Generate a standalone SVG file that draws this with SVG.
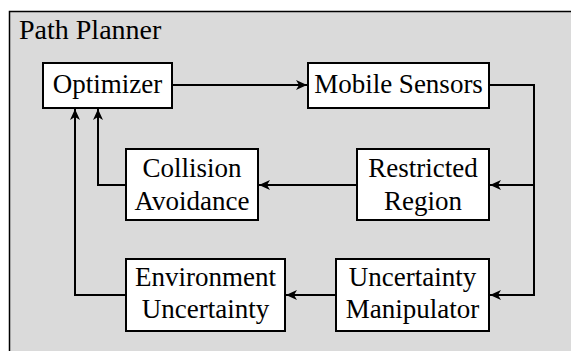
<svg xmlns="http://www.w3.org/2000/svg" width="571" height="351" viewBox="0 0 571 351" font-family="Liberation Serif">
<style>
.box{fill:#fff;stroke:#000;stroke-width:2}
.lbl{fill:#000;text-anchor:middle}
.wire{fill:none;stroke:#000;stroke-width:2}
</style>
<defs>
<marker id="ah" markerUnits="userSpaceOnUse" markerWidth="14" markerHeight="12" viewBox="-12 -6 14 12" refX="0" refY="0" orient="auto">
<path d="M0,0 L-11,-5 L-8,0 L-11,5 Z" fill="#000"/>
</marker>
</defs>
<rect x="9.5" y="11.5" width="570" height="350" fill="#dadada" stroke="#000" stroke-width="1.5"/>
<text x="19" y="39" font-family="Liberation Serif" font-size="28">Path Planner</text>
<g id="connectors">
<path class="wire" d="M172,85 H307" marker-end="url(#ah)"/>
<path class="wire" d="M489,85 H534 V185 H490" marker-end="url(#ah)"/>
<path class="wire" d="M534,185 V295 H490" marker-end="url(#ah)"/>
<path class="wire" d="M357,185 H259" marker-end="url(#ah)"/>
<path class="wire" d="M336,295 H286" marker-end="url(#ah)"/>
<path class="wire" d="M126,185 H98 V109" marker-end="url(#ah)"/>
<path class="wire" d="M126,295 H75 V109" marker-end="url(#ah)"/>
</g>
<g id="optimizer">
<rect class="box" x="43" y="63" width="129" height="45"/>
<text class="lbl" x="107.5" y="93" font-family="Liberation Serif" font-size="27">Optimizer</text>
</g>
<g id="mobile-sensors">
<rect class="box" x="308" y="63" width="181" height="45"/>
<text class="lbl" x="398.5" y="93" font-family="Liberation Serif" font-size="27">Mobile Sensors</text>
</g>
<g id="collision-avoidance">
<rect class="box" x="126" y="149" width="132" height="71"/>
<text class="lbl" x="192" y="177" font-family="Liberation Serif" font-size="27">Collision</text>
<text class="lbl" x="192" y="210" font-family="Liberation Serif" font-size="27">Avoidance</text>
</g>
<g id="restricted-region">
<rect class="box" x="357" y="149" width="132" height="71"/>
<text class="lbl" x="423" y="177" font-family="Liberation Serif" font-size="27">Restricted</text>
<text class="lbl" x="423" y="210" font-family="Liberation Serif" font-size="27">Region</text>
</g>
<g id="environment-uncertainty">
<rect class="box" x="126" y="259" width="159" height="72"/>
<text class="lbl" x="205.5" y="286" font-family="Liberation Serif" font-size="27">Environment</text>
<text class="lbl" x="205.5" y="318" font-family="Liberation Serif" font-size="27">Uncertainty</text>
</g>
<g id="uncertainty-manipulator">
<rect class="box" x="336" y="259" width="153" height="72"/>
<text class="lbl" x="412.5" y="286" font-family="Liberation Serif" font-size="27">Uncertainty</text>
<text class="lbl" x="412.5" y="318" font-family="Liberation Serif" font-size="27">Manipulator</text>
</g>
</svg>
